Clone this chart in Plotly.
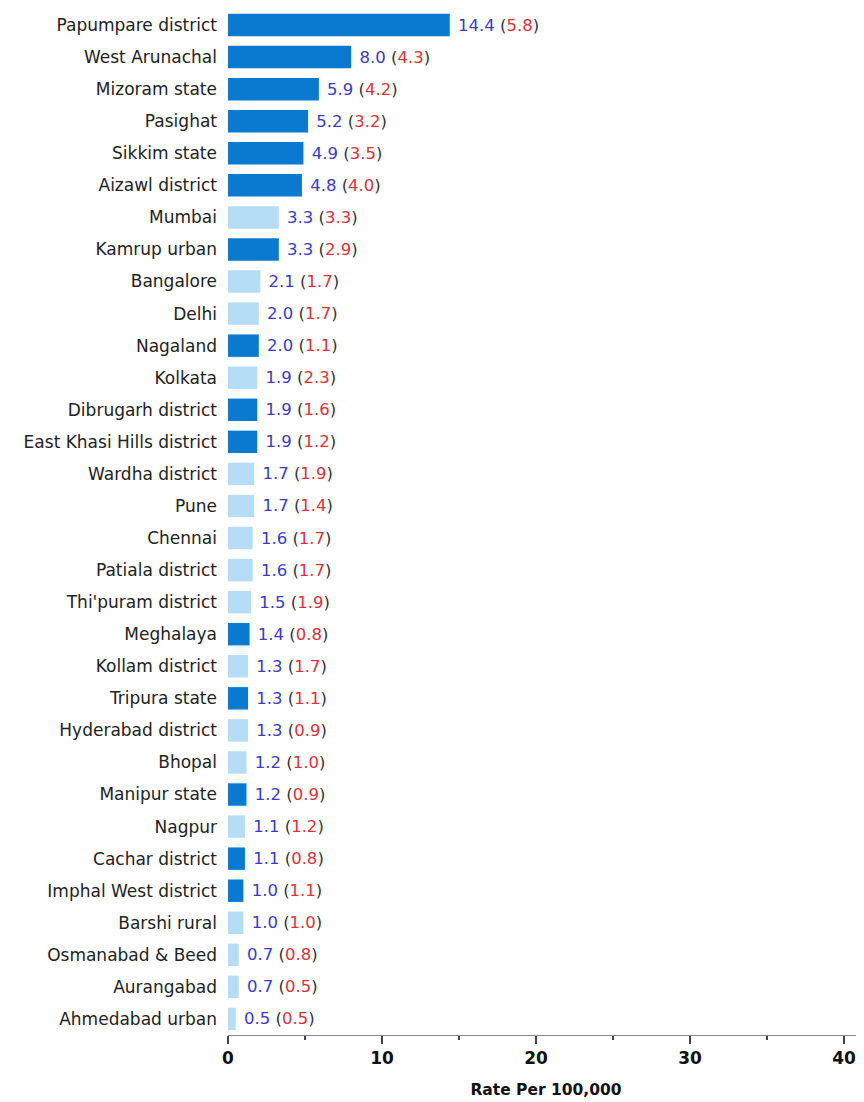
import plotly.graph_objects as go

regions = ["Papumpare district", "West Arunachal", "Mizoram state", "Pasighat", "Sikkim state",
           "Aizawl district", "Mumbai", "Kamrup urban", "Bangalore", "Delhi", "Nagaland", "Kolkata",
           "Dibrugarh district", "East Khasi Hills district", "Wardha district", "Pune", "Chennai",
           "Patiala district", "Thi'puram district", "Meghalaya", "Kollam district", "Tripura state",
           "Hyderabad district", "Bhopal", "Manipur state", "Nagpur", "Cachar district",
           "Imphal West district", "Barshi rural", "Osmanabad & Beed", "Aurangabad", "Ahmedabad urban"]
rates = [14.4, 8.0, 5.9, 5.2, 4.9, 4.8, 3.3, 3.3, 2.1, 2.0, 2.0, 1.9, 1.9, 1.9, 1.7, 1.7, 1.6,
         1.6, 1.5, 1.4, 1.3, 1.3, 1.3, 1.2, 1.2, 1.1, 1.1, 1.0, 1.0, 0.7, 0.7, 0.5]
second = [5.8, 4.3, 4.2, 3.2, 3.5, 4.0, 3.3, 2.9, 1.7, 1.7, 1.1, 2.3, 1.6, 1.2, 1.9, 1.4, 1.7,
          1.7, 1.9, 0.8, 1.7, 1.1, 0.9, 1.0, 0.9, 1.2, 0.8, 1.1, 1.0, 0.8, 0.5, 0.5]
northeast = [1, 1, 1, 1, 1, 1, 0, 1, 0, 0, 1, 0, 1, 1, 0, 0, 0, 0, 0, 1, 0, 1, 0, 0, 1, 0, 1, 1,
             0, 0, 0, 0]
x_ticks = [0, 10, 20, 30, 40]

DARK = "#0a7ad0"
LIGHT = "#b5def6"
FONT = "DejaVu Sans"
colors = [DARK if n else LIGHT for n in northeast]
texts = [f"\u00a0<span style='color:#3a3acb'>{r:.1f}</span> <span style='color:#333'>(</span>"
         f"<span style='color:#e0303a'>{s:.1f}</span><span style='color:#333'>)</span>"
         for r, s in zip(rates, second)]

fig = go.Figure(go.Bar(
    x=rates, y=regions, orientation="h",
    marker=dict(color=colors, line=dict(width=0)),
    width=0.7,
    text=texts, textposition="outside", cliponaxis=False,
    textfont=dict(family=FONT, size=16.5, color="#3a3acb"),
    hoverinfo="skip",
))

fig.update_layout(
    width=856, height=1094,
    margin=dict(l=220, r=0, t=1, b=67),
    plot_bgcolor="white", paper_bgcolor="white",
    showlegend=False,
    font=dict(family=FONT, color="#222"),
)
fig.update_yaxes(
    autorange=False, range=[len(regions) - 0.5, -0.5],
    categoryorder="array", categoryarray=regions,
    tickfont=dict(family=FONT, size=17, color="#222"),
    ticks="", ticklabelstandoff=10, showline=False, showgrid=False,
)
fig.update_xaxes(
    range=[0, 41.3], tickvals=x_ticks,
    ticktext=[f"<b>{v}</b>" for v in x_ticks],
    tickfont=dict(family=FONT, size=17, color="#111"),
    ticks="outside", ticklen=8, tickwidth=2, tickcolor="#444",
    minor=dict(dtick=5, tick0=0, ticks="outside", ticklen=4, tickwidth=2, tickcolor="#444"),
    showline=True, linecolor="#888", linewidth=1, showgrid=False, zeroline=False,
    title=dict(text="<b>Rate Per 100,000</b>", font=dict(family=FONT, size=15.5, color="#111"),
               standoff=16),
)

fig.write_html("out.html")
